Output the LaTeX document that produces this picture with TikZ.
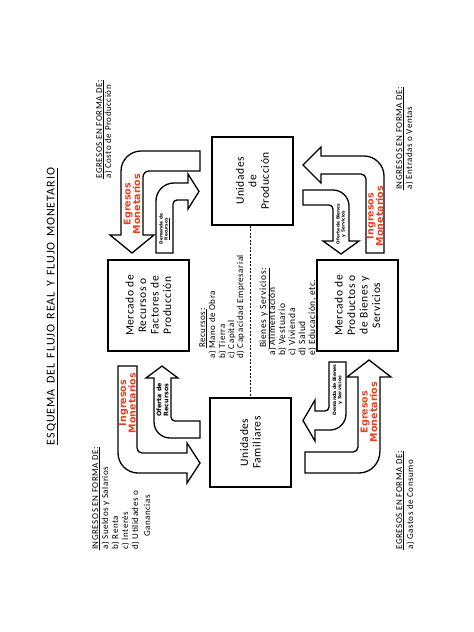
\documentclass[tikz,border=0pt]{standalone}
\usepackage{fontspec}
\setmainfont{Carlito}
\newfontfamily\sidefont[LetterSpace=6]{Carlito}
\newfontfamily\titlefont[LetterSpace=8]{Carlito}
\newfontfamily\boxfont[LetterSpace=5]{Carlito}
\newfontfamily\heavyfont{DejaVu Sans}
\definecolor{monred}{RGB}{234,64,30}
\newcommand{\tgap}{\hspace{0.45em}}
\begin{document}
\begin{tikzpicture}[x=1pt,y=-1pt,
 box/.style={draw,line width=1.7pt,inner sep=0pt},
 boxtext/.style={rotate=90,align=center,inner sep=0pt,font=\boxfont\fontsize{11.5}{12.5}\selectfont},
 flow/.style={draw=black,line width=1.3pt,fill=white,line join=miter,miter limit=10},
 redlbl/.style={rotate=90,align=center,inner sep=0pt,text=monred,font=\heavyfont\bfseries\fontsize{9.5}{9.5}\selectfont},
 smalllbl/.style={rotate=90,align=center,inner sep=0pt,font=\heavyfont\bfseries\fontsize{4.3}{5}\selectfont},
 sidetext/.style={rotate=90,anchor=base west,inner sep=0pt,font=\sidefont\fontsize{9}{10}\selectfont},
 titletext/.style={rotate=90,anchor=base,inner sep=0pt,font=\titlefont\fontsize{12}{14}\selectfont}]
\useasboundingbox[fill=white] (0,0) rectangle (474,632);

% title
\node[titletext] (title) at (54.5,306.5) {\underline{ESQUEMA\tgap DEL\tgap FLUJO\tgap REAL\tgap Y\tgap FLUJO\tgap MONETARIO}};

% boxes
\node[box,minimum width=81pt,minimum height=88pt] (up) at (252.5,181) {};
\node[box,minimum width=81pt,minimum height=91pt] (rec) at (148.5,305.5) {};
\node[box,minimum width=81pt,minimum height=91pt] (prod) at (357.5,305.5) {};
\node[box,minimum width=81pt,minimum height=89pt] (fam) at (250.5,442.5) {};
\node[boxtext] (upt) at (up.center) {Unidades\\de\\Producción};
\node[boxtext] (rect) at (rec.center) {Mercado de\\Recursos o\\Factores de\\Producción};
\node[boxtext] (prodt) at (prod.center) {Mercado de\\Productos o\\de Bienes y\\Servicios};
\node[boxtext] (famt) at (fam.center) {Unidades\\Familiares};

\draw[line width=0.8pt,dash pattern=on 2pt off 1.5pt] (fam.north |- up.south) -- (fam.north);

% arrows top-left
\path[flow] (200,151) -- (141,151) .. controls (130,151) and (121,160) .. (121,171) -- (121,235) -- (110,235) -- (132,253) -- (154,235) -- (143,235) -- (143,177) .. controls (143,173.7) and (145.7,171) .. (149,171) -- (200,171) -- cycle;
\path[flow] (156,253) -- (156,201) .. controls (156,191) and (164,183) .. (174,183) -- (188,183) -- (188,174) -- (199,191.5) -- (188,209) -- (188,200) -- (177,200) .. controls (174.8,200) and (173,201.8) .. (173,204) -- (173,253) -- cycle;
% arrows top-right
\path[flow] (321,156) -- (364,156) .. controls (375,156) and (384,165) .. (384,176) -- (384,253) -- (366,253) -- (366,179) .. controls (366,176.2) and (363.8,174) .. (361,174) -- (321,174) -- (321,183) -- (303,165) -- (321,147) -- cycle;
\path[flow] (303,190) -- (333,190) .. controls (341.8,190) and (349,197.2) .. (349,206) -- (349,241) -- (359,241) -- (341,254) -- (323,241) -- (333,241) -- (333,209) .. controls (333,206.8) and (331.2,205) .. (329,205) -- (303,205) -- cycle;
% arrows bottom-left
\path[flow] (118,366) -- (118,453) .. controls (118,464) and (127,473) .. (138,473) -- (187,473) -- (187,483) -- (200,463) -- (187,443) -- (187,453) -- (142,453) .. controls (139.2,453) and (137,450.8) .. (137,448) -- (137,366) -- cycle;
\path[flow] (162,366) -- (178,378) -- (171,378) -- (171,417) .. controls (171,419.2) and (172.8,421) .. (175,421) -- (200,421) -- (200,438) -- (170,438) .. controls (161.2,438) and (154,430.8) .. (154,422) -- (154,378) -- (146,378) -- cycle;
% arrows bottom-right
\path[flow] (369,360) -- (391,377) -- (380,377) -- (380,451) .. controls (380,463) and (371,473) .. (359,473) -- (305,473) -- (305,452) -- (353,452) .. controls (355.8,452) and (358,449.8) .. (358,447) -- (358,377) -- (347,377) -- cycle;
\path[flow] (329,362) -- (346,362) -- (346,414) .. controls (346,422.8) and (338.8,430) .. (330,430) -- (315,430) -- (315,441) -- (303,420.5) -- (315,400) -- (315,411) -- (325,411) .. controls (327.2,411) and (329,409.2) .. (329,407) -- cycle;

% arrow labels
\node[redlbl] (em1) at (132,204) {Egresos\\Monetarios};
\node[redlbl] (im1) at (375,216) {Ingresos\\Monetarios};
\node[redlbl] (im2) at (127.5,403) {Ingresos\\Monetarios};
\node[redlbl] (em2) at (369,412) {Egresos\\Monetarios};
\node[smalllbl] (dr) at (164.5,229) {Demanda de\\\underline{Recursos}};
\node[smalllbl] (ob) at (341,224) {Oferta de Bienes\\y Servicios};
\node[smalllbl,font=\heavyfont\bfseries\fontsize{6.3}{6.8}\selectfont] (or) at (162.5,400) {Oferta de\\Recursos};
\node[smalllbl,font=\heavyfont\bfseries\fontsize{4.6}{5.3}\selectfont] (db) at (337.5,390) {Demanda de Bienes\\y Servicios};

% side texts
\node[sidetext] (tlh) at (102,179) {\underline{EGRESOS EN FORMA DE:}};
\node[sidetext] (tla) at (111,179) {a) Costo de Producción};
\node[sidetext] (trh) at (402,190) {\underline{INGRESOS EN FORMA DE:}};
\node[sidetext] (tra) at (412,190) {a) Entradas o Ventas};
\node[sidetext] (blh) at (98,550) {\underline{INGRESOS EN FORMA DE:}};
\node[sidetext] (bla) at (108,550) {a) Sueldos y Salarios};
\node[sidetext] (blb) at (118,550) {b) Renta};
\node[sidetext] (blc) at (128,550) {c) Interés};
\node[sidetext] (bld) at (138,550) {d) Utilidades o};
\node[sidetext] (ble) at (150,537) {Ganancias};
\node[sidetext] (brh) at (402,550) {\underline{EGRESOS EN FORMA DE:}};
\node[sidetext] (bra) at (413,550) {a) Gastos de Consumo};

% center lists
\node[sidetext] (rh) at (205,348) {\underline{Recursos:}};
\node[sidetext] (ra) at (215,359) {a) Mano de Obra};
\node[sidetext] (rb) at (225,359) {b) Tierra};
\node[sidetext] (rc) at (234,359) {c) Capital};
\node[sidetext] (rd) at (243,359) {d) Capacidad Empresarial};
\node[sidetext,font=\sidefont\fontsize{9.5}{10}\selectfont] (bh) at (266,348) {\underline{Bienes y Servicios:}};
\node[sidetext,font=\sidefont\fontsize{9.5}{10}\selectfont] (ba) at (275,356) {a) Alimentación};
\node[sidetext,font=\sidefont\fontsize{9.5}{10}\selectfont] (bb) at (285,356) {b) Vestuario};
\node[sidetext,font=\sidefont\fontsize{9.5}{10}\selectfont] (bc) at (295,356) {c) Vivienda};
\node[sidetext,font=\sidefont\fontsize{9.5}{10}\selectfont] (bd) at (305,356) {d) Salud};
\node[sidetext,font=\sidefont\fontsize{9.5}{10}\selectfont] (be) at (315,356) {e) Educación, etc.};
\end{tikzpicture}
\end{document}
